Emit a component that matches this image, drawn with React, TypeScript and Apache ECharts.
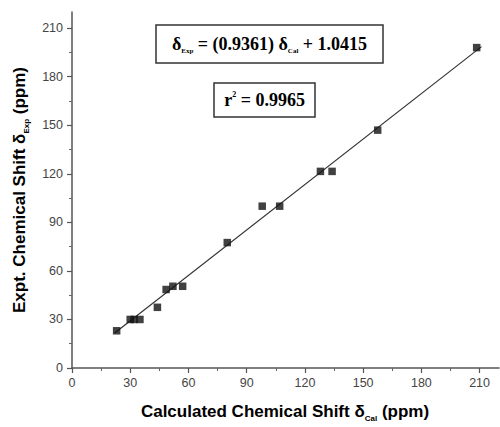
import React, { useEffect, useRef } from "react";
import * as echarts from "echarts";

const points: [number, number][] = [
  [23, 23],
  [30, 30],
  [32, 30],
  [35, 30],
  [44, 37.5],
  [48.5, 48.5],
  [52, 50.5],
  [57, 50.5],
  [80, 77.5],
  [98, 100],
  [107, 100],
  [128, 121.5],
  [134, 121.5],
  [157.5, 147],
  [208.5, 198],
];

const fitLine: [number, number][] = [
  [22, 21.6],
  [211, 198.6],
];

const tickValues = [0, 30, 60, 90, 120, 150, 180, 210];

const SERIF = "'Liberation Serif', 'Times New Roman', serif";
const SANS = "'Liberation Sans', Arial, sans-serif";

export default function App() {
  const ref = useRef<HTMLDivElement>(null);
  useEffect(() => {
    if (!ref.current) return;
    const chart = echarts.init(ref.current, null, { renderer: "svg" });
    const axisCommon = {
      min: 0,
      max: 220,
      interval: 30,
      axisLine: { show: true, lineStyle: { color: "#555", width: 1.5 } },
      axisTick: {
        show: true,
        inside: false,
        length: 5,
        customValues: tickValues,
        lineStyle: { color: "#555", width: 1.2 },
      },
      minorTick: { show: true, splitNumber: 2, length: 3, lineStyle: { color: "#666", width: 1 } },
      axisLabel: {
        customValues: tickValues,
        color: "#444",
        fontFamily: SANS,
        fontSize: 12.5,
      },
      splitLine: { show: false },
    };
    const titleRich = {
      t: { fontFamily: SANS, fontWeight: "bold", fontSize: 17, color: "#3a3a3a", lineHeight: 22 },
      s: {
        fontFamily: SANS,
        fontWeight: "bold",
        fontSize: 8,
        color: "#3a3a3a",
        lineHeight: 8,
        verticalAlign: "bottom",
      },
    };
    const boxRich = {
      t: { fontFamily: SERIF, fontWeight: "bold", fontSize: 18, color: "#222", lineHeight: 20 },
      s: {
        fontFamily: SERIF,
        fontWeight: "bold",
        fontSize: 7,
        color: "#222",
        lineHeight: 7,
        verticalAlign: "bottom",
      },
      p: {
        fontFamily: SERIF,
        fontWeight: "bold",
        fontSize: 8,
        color: "#222",
        lineHeight: 8,
        verticalAlign: "top",
      },
    };
    chart.setOption({
      animation: false,
      backgroundColor: "#fff",
      grid: { left: 72, right: 1, top: 12, bottom: 59 },
      xAxis: { type: "value", ...axisCommon, axisLabel: { ...axisCommon.axisLabel, margin: 8 } },
      yAxis: { type: "value", ...axisCommon, axisLabel: { ...axisCommon.axisLabel, margin: 9 } },
      series: [
        {
          type: "line",
          data: fitLine,
          showSymbol: false,
          symbol: "none",
          lineStyle: { color: "#333", width: 1.2 },
          z: 1,
        },
        {
          type: "scatter",
          data: points,
          symbol: "rect",
          symbolSize: 7.5,
          itemStyle: { color: "#111" },
          z: 2,
        },
      ],
      graphic: [
        {
          type: "text",
          x: 285,
          y: 411,
          style: {
            text: "{t|Calculated Chemical Shift δ}{s|Cal}{t| (ppm)}",
            align: "center",
            verticalAlign: "middle",
            rich: titleRich,
          },
        },
        {
          type: "text",
          x: 19,
          y: 190,
          rotation: Math.PI / 2,
          style: {
            text: "{t|Expt. Chemical Shift δ}{s|Exp}{t| (ppm)}",
            align: "center",
            verticalAlign: "middle",
            rich: titleRich,
          },
        },
        {
          type: "rect",
          shape: { x: 156, y: 25, width: 227, height: 38 },
          style: { fill: "#fff", stroke: "#333", lineWidth: 1.5 },
        },
        {
          type: "text",
          x: 269.5,
          y: 44,
          style: {
            text: "{t|δ}{s|Exp}{t| = (0.9361) δ}{s|Cal}{t| + 1.0415}",
            align: "center",
            verticalAlign: "middle",
            rich: boxRich,
          },
        },
        {
          type: "rect",
          shape: { x: 214, y: 83, width: 101, height: 34 },
          style: { fill: "#fff", stroke: "#333", lineWidth: 1.5 },
        },
        {
          type: "text",
          x: 264.5,
          y: 100,
          style: {
            text: "{t|r}{p|2}{t| = 0.9965}",
            align: "center",
            verticalAlign: "middle",
            rich: boxRich,
          },
        },
      ],
    });
    return () => chart.dispose();
  }, []);
  return <div ref={ref} style={{ width: 500, height: 427, position: "absolute", left: 0, top: 0 }} />;
}
